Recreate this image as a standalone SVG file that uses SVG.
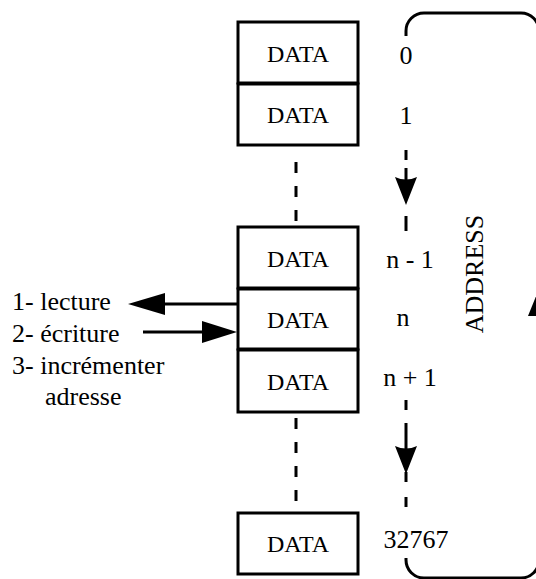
<svg xmlns="http://www.w3.org/2000/svg" width="536" height="579" viewBox="0 0 536 579">
<style>
.box{fill:#fff;stroke:#000;stroke-width:3}
text{font-family:'Liberation Serif','Times New Roman','DejaVu Serif',serif;fill:#000}
.d{font-size:24px;text-anchor:middle}
.n{font-size:26px;text-anchor:middle}
.l{font-size:26px}
.ln{stroke:#000;stroke-width:3;fill:none}
.dash{stroke:#000;stroke-width:3;fill:none;stroke-dasharray:11 13}
.ah{fill:#000;stroke:none}
</style>
<rect width="536" height="579" fill="#fff"/>
<g id="cell0"><rect class="box" x="238" y="22" width="120" height="61"/><text class="d" x="298" y="62" font-family="Liberation Serif, serif">DATA</text></g>
<g id="cell1"><rect class="box" x="238" y="84" width="120" height="61"/><text class="d" x="298" y="123">DATA</text></g>
<g id="cellnm1"><rect class="box" x="238" y="227" width="120" height="61"/><text class="d" x="298" y="267">DATA</text></g>
<g id="celln"><rect class="box" x="238" y="289" width="120" height="60"/><text class="d" x="298" y="328">DATA</text></g>
<g id="cellnp1"><rect class="box" x="238" y="350" width="120" height="62"/><text class="d" x="298" y="390">DATA</text></g>
<g id="celllast"><rect class="box" x="238" y="513" width="120" height="61"/><text class="d" x="298" y="552">DATA</text></g>
<g id="labels">
<text class="n" x="406" y="64">0</text>
<text class="n" x="406" y="124">1</text>
<text class="n" x="410" y="268">n - 1</text>
<text class="n" x="403" y="326">n</text>
<text class="n" x="410" y="386">n + 1</text>
<text class="n" x="416" y="548">32767</text>
<text class="n" transform="translate(483,274) rotate(-90)">ADDRESS</text>
</g>
<g id="ops">
<text class="l" x="12" y="310">1- lecture</text>
<text class="l" x="12" y="342">2- écriture</text>
<text class="l" x="12" y="374">3- incrémenter</text>
<text class="l" x="45" y="405">adresse</text>
</g>
<g id="connectors">
<line class="dash" x1="296" y1="162" x2="296" y2="227"/>
<line class="dash" x1="296" y1="418" x2="296" y2="508"/>
<line class="ln" x1="406" y1="150" x2="406" y2="160"/>
<line class="ln" x1="406" y1="168" x2="406" y2="182"/>
<path class="ah" d="M395,177 Q406,182 417,177 L406,205 Z"/>
<line class="ln" x1="406" y1="216" x2="406" y2="231"/>
<line class="ln" x1="406" y1="400" x2="406" y2="410"/>
<line class="ln" x1="406" y1="423" x2="406" y2="450"/>
<path class="ah" d="M395,446 Q406,451 417,446 L406,474 Z"/>
<line class="ln" x1="406" y1="472" x2="406" y2="482"/>
<line class="ln" x1="406" y1="497" x2="406" y2="507"/>
<path class="ln" d="M406,36 V31 A18,18 0 0 1 424,13 H521 A18,18 0 0 1 539,31 V560 A18,18 0 0 1 521,578 H424 A18,18 0 0 1 406,560 V558"/>
<path class="ah" d="M539,289 L550,316 L528,316 Z"/>
<line class="ln" x1="238" y1="304" x2="160" y2="304"/>
<path class="ah" d="M128,304 L165,293 L165,315 Z"/>
<line class="ln" x1="143" y1="332" x2="208" y2="332"/>
<path class="ah" d="M237,332 L202,321 L202,343 Z"/>
</g>
</svg>
